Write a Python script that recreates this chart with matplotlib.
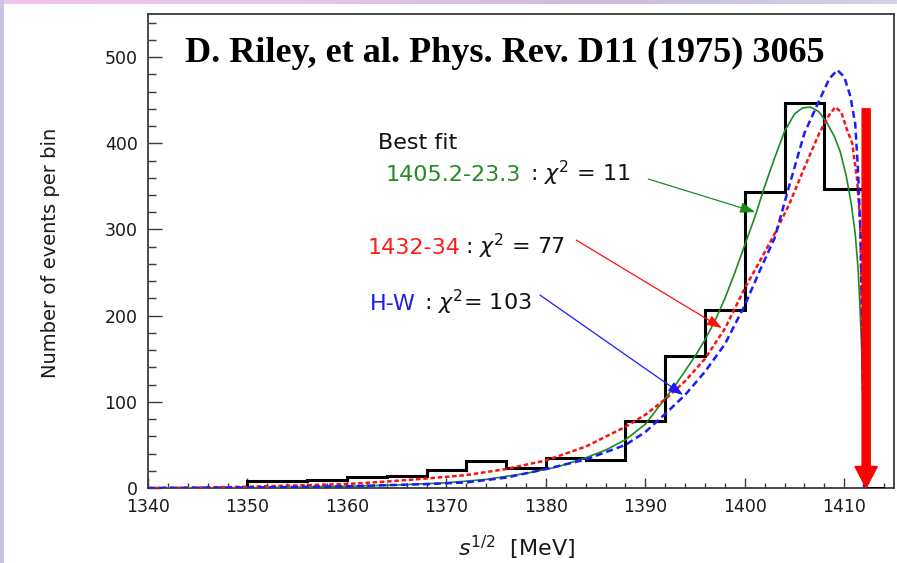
import matplotlib
matplotlib.use("Agg")
import matplotlib.pyplot as plt
from matplotlib.patches import Rectangle
from matplotlib.ticker import MultipleLocator
from matplotlib.colors import LinearSegmentedColormap
import numpy as np

# ---------------- data ----------------
bin_edges = [1350, 1356, 1360, 1364, 1368, 1372, 1376, 1380, 1384, 1388,
             1392, 1396, 1400, 1404, 1408, 1412, 1414]
bin_counts = [7.7, 9.6, 12.3, 14.3, 21.2, 31.7, 22.8, 34.4, 32.8, 77.3,
              153, 207, 343, 447, 347, 0]

green_x = [1340, 1350, 1355, 1360, 1365, 1370, 1374, 1378, 1381, 1384, 1386,
           1388, 1390, 1392, 1393, 1394, 1395, 1396, 1397, 1398, 1399, 1400,
           1401, 1402, 1403, 1404, 1405, 1405.8, 1406.6, 1407.4, 1408.2,
           1409, 1409.6, 1410.2, 1410.7, 1411.1, 1411.4, 1411.6, 1411.75,
           1411.88, 1412]
green_y = [0, 0.5, 1, 2, 3.5, 6, 10, 17, 24, 35, 44, 56, 74, 104, 119, 136,
           153, 172, 194, 220, 250, 282, 314, 350, 383, 414, 434, 441, 442,
           437, 425, 408, 390, 362, 330, 295, 253, 205, 160, 100, 0]

red_x = [1340, 1345, 1350, 1355, 1360, 1364, 1368, 1372, 1376, 1380, 1384,
         1388, 1390, 1392, 1394, 1396, 1398, 1400, 1401.5, 1403, 1404.5, 1406,
         1407.5, 1408.5, 1409.1, 1409.7, 1410.3, 1410.8, 1411.3, 1411.6,
         1411.85, 1412]
red_y = [0, 0.5, 1.5, 3, 4.6, 7.5, 11, 15, 22, 32, 48, 71, 85, 103, 124, 150,
         185, 232, 263, 295, 330, 372, 412, 433, 442, 436, 415, 400, 357, 307,
         150, 0]

blue_x = [1340, 1350, 1360, 1368, 1372, 1376, 1380, 1384, 1388, 1390, 1392,
          1394, 1396, 1398, 1400, 1401.5, 1403, 1404.5, 1406, 1407.5, 1408.5,
          1409.3, 1410, 1410.6, 1411.1, 1411.4, 1411.65, 1411.85, 1412]
blue_y = [0, 0.5, 2, 4.5, 6.5, 12, 22, 33, 50, 65, 86, 108, 135, 167, 212,
          252, 290, 352, 412, 450, 475, 485, 477, 455, 423, 365, 290, 150, 0]

x_ticks = [1340, 1350, 1360, 1370, 1380, 1390, 1400, 1410]
y_ticks = [0, 100, 200, 300, 400, 500]

title_text = "D. Riley, et al. Phys. Rev. D11 (1975) 3065"
threshold_x = 1412.2
threshold_top = 440

# ---------------- figure ----------------
W, H = 897, 563
fig = plt.figure(figsize=(W / 100, H / 100), dpi=100)
fig.patch.set_facecolor("white")

# decorative slide border
grad = np.linspace(0, 1, 256).reshape(1, -1)
bax = fig.add_axes([0, 1 - 4 / H, 1, 4 / H])
cm = LinearSegmentedColormap.from_list("b", ["#f3c3ee", "#e6c6ea", "#c9bcd8", "#d8d0e4"])
bax.imshow(grad, aspect="auto", cmap=cm, extent=[0, 1, 0, 1])
bax.set_axis_off()
fig.patches.append(Rectangle((0, 0), 4 / W, 1, transform=fig.transFigure,
                             facecolor="#cbc3e2", edgecolor="none", zorder=0))

ax = fig.add_axes([148 / W, 1 - 488 / H, (894 - 148) / W, (488 - 14) / H])
ax.set_xlim(1340, 1415)
ax.set_ylim(0, 550)

ax.stairs(bin_counts, bin_edges, baseline=0, color="black", lw=2.2, zorder=3)

ax.plot(green_x, green_y, color="#1e8a1e", lw=1.2, zorder=4)
ax.plot(red_x, red_y, color="#ff1010", lw=1.8, ls=(0, (1.8, 1.1)), zorder=4)
ax.plot(blue_x, blue_y, color="#1a1aff", lw=1.8, ls=(0, (2.8, 1.6)), zorder=4)

# threshold arrow
ax.annotate("", xy=(threshold_x, 0), xytext=(threshold_x, threshold_top),
            arrowprops=dict(arrowstyle="simple,tail_width=0.58,head_width=1.6,head_length=1.55",
                            color="red", shrinkA=0, shrinkB=0, mutation_scale=10),
            zorder=6)

# label arrows
for (x0, y0, x1, y1, c) in [(1390.3, 358.5, 1401.05, 320.2, "#1e8a1e"),
                            (1383.05, 287.7, 1397.7, 185.6, "#ff1010"),
                            (1379.4, 223.9, 1393.8, 107.9, "#1a1aff")]:
    ax.annotate("", xy=(x1, y1), xytext=(x0, y0),
                arrowprops=dict(arrowstyle="-|>,head_length=0.9,head_width=0.32",
                                color=c, lw=0.9, shrinkA=0, shrinkB=0,
                                mutation_scale=10), zorder=5)

# axes styling
spc = "#3a3a3a"
for s in ax.spines.values():
    s.set_color(spc)
    s.set_linewidth(1.3)
ax.set_xticks(x_ticks)
ax.set_yticks(y_ticks)
ax.xaxis.set_minor_locator(MultipleLocator(2))
ax.yaxis.set_minor_locator(MultipleLocator(20))
ax.tick_params(axis="both", which="both", direction="in", top=False, right=False,
               color=spc, width=1.0, labelsize=12.5, labelcolor="#1a1a1a")
ax.tick_params(axis="x", which="major", length=7, pad=7)
ax.tick_params(axis="x", which="minor", length=3.6)
ax.tick_params(axis="y", which="major", length=10, pad=7.5)
ax.tick_params(axis="y", which="minor", length=5.8)


def ptext(x, y, s, **kw):
    fig.text(x / W, 1 - y / H, s, **kw)


ptext(185, 61.5, title_text, fontsize=26.0, fontweight="bold",
      family="Liberation Serif", ha="left", va="baseline", color="black")

fs = 16
ptext(378, 149, "Best fit", fontsize=fs, color="#111111", ha="left", va="baseline")
ptext(386, 181, "1405.2-23.3", fontsize=fs, color="#228b22", ha="left", va="baseline")
ptext(530, 181, r": $\chi^2$ = 11", fontsize=fs, color="#111111", ha="left", va="baseline")
ptext(368, 254, "1432-34", fontsize=fs, color="#ff1a1a", ha="left", va="baseline")
ptext(465, 254, r": $\chi^2$ = 77", fontsize=fs, color="#111111", ha="left", va="baseline")
ptext(370, 310.5, "H-W", fontsize=fs, color="#1f1fe6", ha="left", va="baseline")
ptext(424, 310.5, r": $\chi^2$= 103", fontsize=fs, color="#111111", ha="left", va="baseline")

ptext(51, 253, "Number of events per bin", fontsize=14, rotation=90,
      ha="center", va="center", color="#1a1a1a")
ptext(458, 556, r"$s^{1/2}$  [MeV]", fontsize=16, ha="left", va="baseline",
      color="#1a1a1a")

fig.savefig("out.png", dpi=100)
